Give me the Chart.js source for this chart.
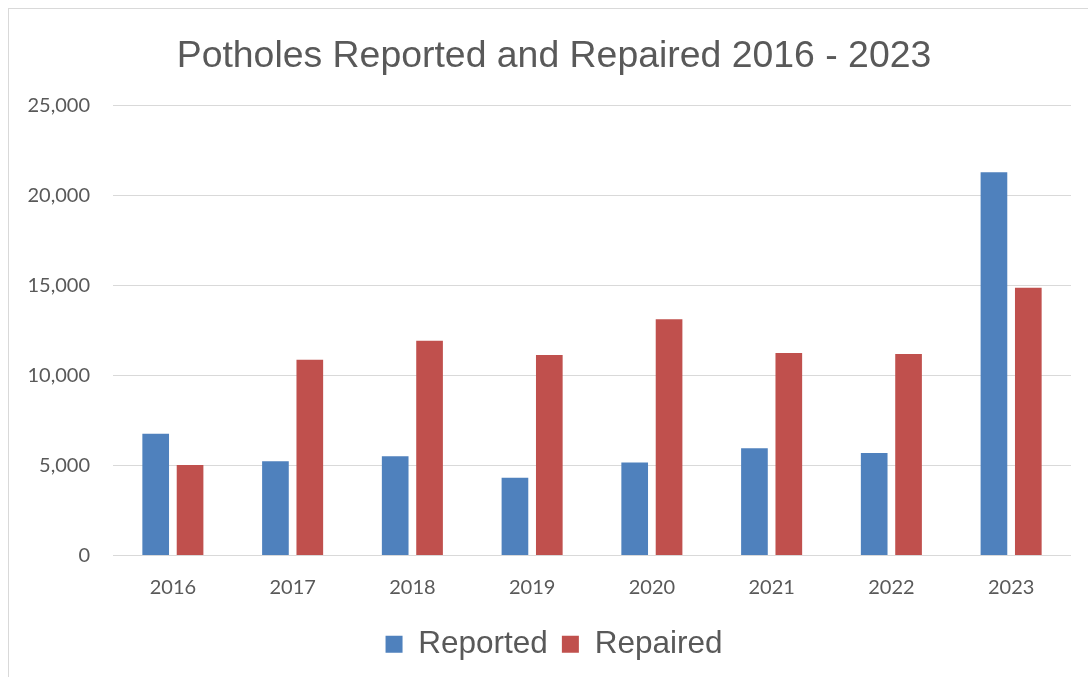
<!DOCTYPE html>
<html>
<head>
<meta charset="utf-8">
<script src="https://cdn.jsdelivr.net/npm/chart.js@4/dist/chart.umd.min.js"></script>
<style>
  html, body { margin: 0; padding: 0; background: #ffffff; }
  #wrap { position: relative; width: 1088px; height: 677px; overflow: hidden; }
  #frame { position: absolute; left: 8px; top: 8px; width: 1200px; height: 800px;
           border-left: 1px solid #d9d9d9; border-top: 1px solid #d9d9d9; }
  canvas { position: absolute; left: 0; top: 0; }
</style>
</head>
<body>
<div id="wrap">
  <div id="frame"></div>
  <canvas id="c" width="1088" height="677"></canvas>
</div>
<script>
const categories = ["2016", "2017", "2018", "2019", "2020", "2021", "2022", "2023"];
const reported = [6770, 5240, 5520, 4320, 5170, 5960, 5700, 21310];
const repaired = [5030, 10890, 11940, 11150, 13130, 11260, 11200, 14890];
const seriesNames = ["Reported", "Repaired"];
const yTicks = [0, 5000, 10000, 15000, 20000, 25000];
const titleText = "Potholes Reported and Repaired 2016 - 2023";

const ctx = document.getElementById('c').getContext('2d');
new Chart(ctx, {
  type: 'bar',
  data: {
    labels: categories,
    datasets: [
      { label: seriesNames[0], data: reported, backgroundColor: '#4f81bd', borderColor: '#4f81bd', borderWidth: 0,
        categoryPercentage: 0.574, barPercentage: 0.776 },
      { label: seriesNames[1], data: repaired, backgroundColor: '#c0504d', borderColor: '#c0504d', borderWidth: 0,
        categoryPercentage: 0.574, barPercentage: 0.776 }
    ]
  },
  options: {
    responsive: false,
    animation: false,
    devicePixelRatio: 1,
    layout: { padding: { left: 25, right: 5, top: 34, bottom: 7 } },
    plugins: {
      title: {
        display: true, text: titleText, color: '#595959',
        font: { family: '"Liberation Sans", Arial, sans-serif', size: 37.4, weight: 'normal' },
        padding: { top: 0, bottom: 27 }
      },
      legend: {
        display: true, position: 'bottom',
        labels: {
          color: '#595959',
          font: { family: '"Liberation Sans", Arial, sans-serif', size: 31.5 },
          boxWidth: 17, boxHeight: 17, padding: 14
        }
      },
      tooltip: { enabled: false }
    },
    scales: {
      x: {
        afterFit: (axis) => { axis.height = 59; },
        grid: { display: false, drawTicks: false },
        border: { display: false },
        ticks: { color: '#595959', font: { family: 'Lato, "Open Sans", sans-serif', size: 20 }, padding: 20 }
      },
      y: {
        min: 0, max: 25000,
        afterBuildTicks: (axis) => { axis.ticks = yTicks.map(v => ({ value: v })); },
        afterFit: (axis) => { axis.width = 88; },
        grid: { color: '#d9d9d9', lineWidth: 1, drawTicks: false },
        border: { display: false },
        ticks: {
          color: '#595959', font: { family: 'Lato, "Open Sans", sans-serif', size: 20 }, padding: 23,
          callback: (v) => v.toLocaleString('en-US')
        }
      },
      yRight: {
        type: 'linear', position: 'right', display: true,
        afterFit: (axis) => { axis.width = 12; },
        grid: { display: false, drawTicks: false },
        border: { display: false },
        ticks: { display: false }
      }
    }
  }
});
</script>
</body>
</html>
